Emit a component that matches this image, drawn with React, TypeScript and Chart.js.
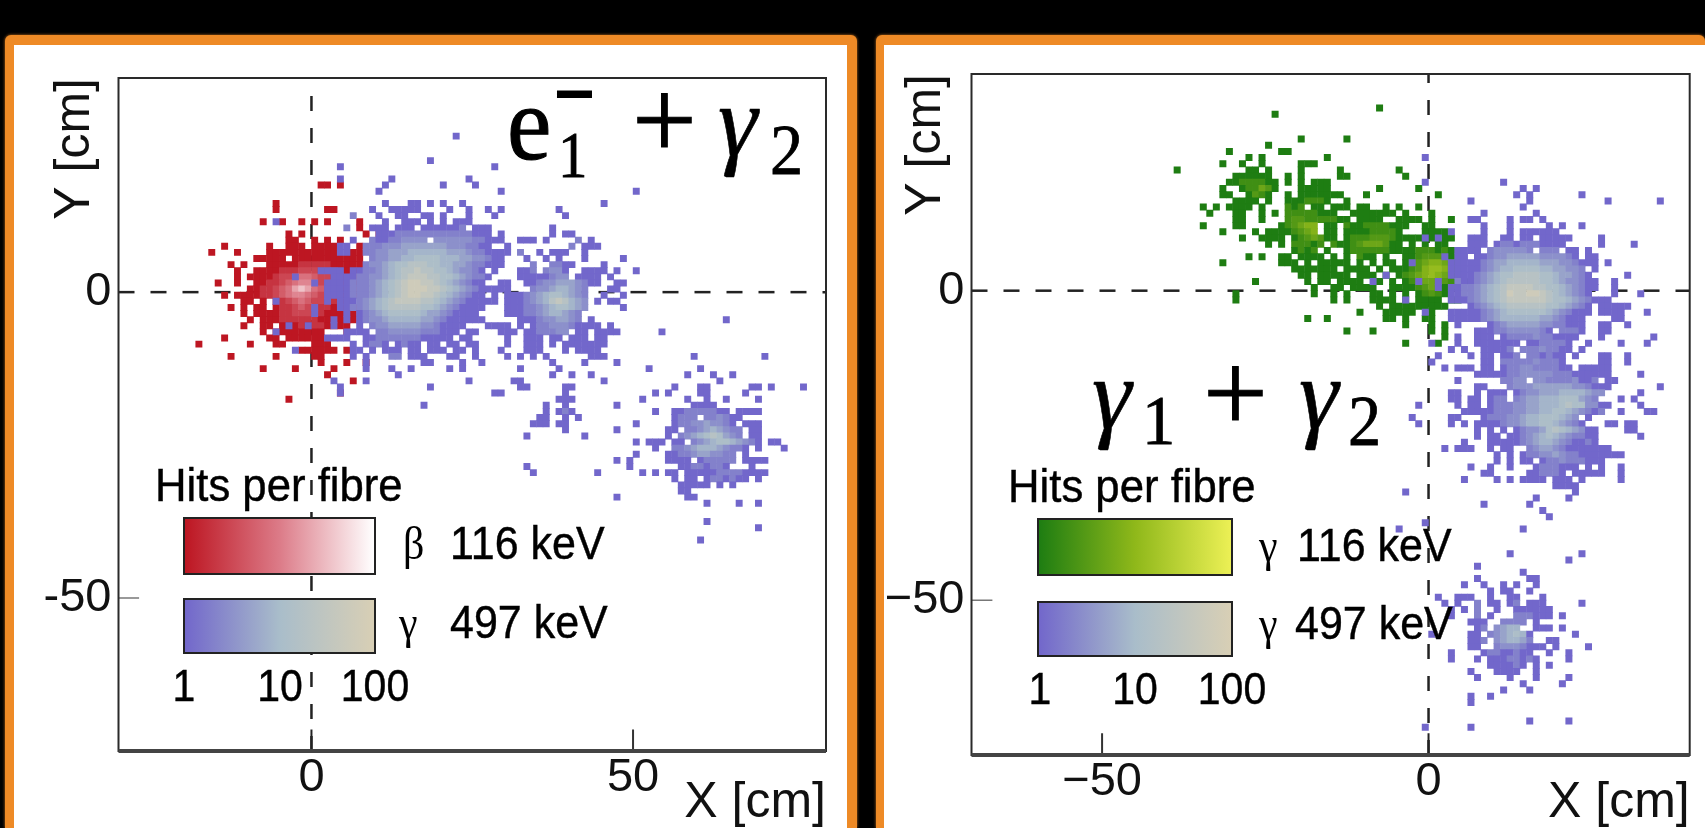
import React, { useEffect, useRef } from "react";
import { Chart, registerables } from "chart.js";

Chart.register(...registerables);

type Row = [number, number, string];

// Each row: Y bin (cm), first X bin (cm), hits code per 1 cm fibre ('.' = none).
const hitsByCode = [0, 1, 2, 3, 5, 8, 12, 20, 35, 60];

const leftBetaRows: Row[] = [
  [17, 1, "11.1"], [14, -6, "1"], [13, -6, "1"], [13, 2, "11"],
  [11, -8, "1"], [11, -5, "1"], [11, -2, "1"], [11, 0, "1"], [11, 2, "1"], [11, 7, "1"],
  [10, 7, "1"], [9, -4, "1.1"], [9, 8, "1.1"], [8, -4, "11..1.1.1"],
  [7, -14, "1"], [7, -7, "1..111.1111...1"],
  [6, -16, "1...1"], [6, -7, "11111111111..11"],
  [5, -9, "11111.11111111111"], [4, -13, "1.1...111112222211111"],
  [3, -12, "1..11112223332221111"], [2, -12, "1.111123345543321111"],
  [1, -15, "1..1..11223456653322111"], [0, -10, "11223457875432111"],
  [-1, -14, "1.1111223456654332111"], [-2, -11, "11.1.223454332211"],
  [-3, -13, "1.1.11.1223433221111"], [-4, -11, "1.1111223332211111"],
  [-5, -10, "1.111222222111111"], [-6, -11, "1..11.11121221111"],
  [-7, -8, "1.11111111...1"], [-8, -14, "1......11.111111"],
  [-9, -18, "1.......1...11....111"], [-10, -2, "111111.1"],
  [-11, -13, "1......1.....11"], [-12, 1, "1...1..1"],
  [-13, -8, "1....1.....1"], [-14, 2, "1"], [-15, 6, "1"], [-17, 4, "1"], [-18, -4, "1"],
];

const leftGammaRows: Row[] = [
  [25, 22, "1"], [21, 18, "1"], [20, 4, "1"], [20, 28, "1"],
  [18, 4, "1"], [18, 12, "1"], [18, 24, "1"], [17, 11, "1"], [17, 20, "1"], [17, 25, "1"],
  [16, 10, "1"], [16, 29, "1"], [16, 50, "1"],
  [14, 11, "1"], [14, 15, "11"], [14, 18, "1"], [14, 20, "1"], [14, 23, "1"], [14, 45, "1"],
  [13, 9, "1"], [13, 12, "11111"], [13, 21, "1"], [13, 24, "1"], [13, 27, "1"], [13, 29, "1"], [13, 38, "1"],
  [12, 6, "2"], [12, 10, "1"], [12, 13, "11"], [12, 17, "11"], [12, 20, "1"], [12, 24, "1"], [12, 28, "1"], [12, 39, "1"],
  [11, -6, "1"], [11, 11, "1"], [11, 14, "111.1.1.111"],
  [10, 5, "2...111.111.1111112.111"], [10, 37, "1"],
  [9, 10, "111222222222222111.1"], [9, 37, "1"], [9, 39, "11"],
  [8, 6, "1"], [8, 9, "211223333.33333322111"], [8, 32, "111"], [8, 36, "1"], [8, 41, "2"], [8, 43, "1"],
  [7, 4, "11"], [7, 8, "22233344444443332211..1"], [7, 40, "2"], [7, 42, "111"],
  [6, 4, "11"], [6, 8, "22334445555554443221111"], [6, 32, "2"], [6, 35, "1"], [6, 37, "111"], [6, 42, "1"],
  [5, 9, "233445566665554433211"], [5, 33, "1"], [5, 36, "1"], [5, 38, "1"], [5, 42, "1"], [5, 48, "1"],
  [4, 8, "2334566777665544322111"], [4, 34, "2"], [4, 37, "2211"], [4, 45, "1"],
  [3, 1, "1111.1"], [3, 7, "12234567787766543321.1"], [3, 32, "11"], [3, 34, "2"], [3, 36, "2331"], [3, 42, "111"], [3, 45, "1"], [3, 47, "1"], [3, 50, "1"],
  [2, -3, "1"], [2, 3, "1111223345678887766543221"], [2, 32, "11111233.1111.1"],
  [1, 0, "1"], [1, 2, "1111222345678998876543211"], [1, 29, "11"], [1, 33, "112334443211"], [1, 47, "11"],
  [0, 2, "11112223456789998876543211"], [0, 28, "111"], [0, 34, "233455432"], [0, 46, "11"],
  [-1, 2, "1111222345678998876543211"], [-1, 28, "1"], [-1, 30, "1112345665432"], [-1, 45, "1"], [-1, 48, "1"],
  [-2, -6, "1"], [-2, 2, "1"], [-2, 4, "1112345678888776543211"], [-2, 26, "111"], [-2, 30, "1112345787543.1"], [-2, 46, "11"],
  [-3, 0, "1"], [-3, 4, "11223456777776654321"], [-3, 24, "111"], [-3, 30, "1112234566543"], [-3, 48, "1"],
  [-4, 0, "1"], [-4, 5, "1"], [-4, 7, "12345666665443211"], [-4, 24, "11"], [-4, 30, "111223455432"],
  [-5, 3, "1"], [-5, 5, "1"], [-5, 7, "12334555554432111"], [-5, 24, "111"], [-5, 32, "1112334432.1"],
  [-6, -4, "1"], [-6, -1, "1"], [-6, 3, "1"], [-6, 7, "1.233444443321111"], [-6, 27, "1111.1.12233321111"], [-6, 46, "1"],
  [-7, -6, "1"], [-7, 5, "1111.2233333222111"], [-7, 24, "11"], [-7, 29, "111"], [-7, 33, "1122233"], [-7, 41, "11"], [-7, 44, "1111"], [-7, 54, "1"],
  [-8, 2, "1111"], [-8, 8, "11222222211111.11"], [-8, 30, "1"], [-8, 33, "111"], [-8, 37, "11"], [-8, 40, "111"], [-8, 44, "11"],
  [-9, 6, "1.1221.1211.11.11"], [-9, 24, "11"], [-9, 30, "1"], [-9, 33, "111"], [-9, 37, "1.1"], [-9, 40, "1111"], [-9, 44, "11"],
  [-10, -3, "1"], [-10, 6, "11.1.111.11.111.11"], [-10, 25, "1"], [-10, 29, "1"], [-10, 33, "111"], [-10, 39, "1"], [-10, 41, "1111"],
  [-11, 6, "1.1...22.111...11"], [-11, 25, "1"], [-11, 30, "1"], [-11, 32, "1"], [-11, 34, "1"], [-11, 36, "1"], [-11, 43, "111"], [-11, 59, "1"], [-11, 70, "1"],
  [-12, 8, "1"], [-12, 17, "11"], [-12, 23, "1"], [-12, 26, "1"], [-12, 37, "1"], [-12, 42, "1"], [-12, 47, "1"],
  [-5, 64, "1"],
  [-13, 8, "1"], [-13, 12, "1"], [-13, 15, "1"], [-13, 21, "1"], [-13, 23, "1"], [-13, 32, "1"], [-13, 38, "1"], [-13, 52, "1"], [-13, 60, "1"],
  [-14, 13, "1"], [-14, 37, "1"], [-14, 40, "1"], [-14, 43, "1"], [-14, 58, "1"], [-14, 62, "1"], [-14, 65, "1"],
  [-15, 3, "1"], [-15, 8, "1"], [-15, 24, "1"], [-15, 31, "11"], [-15, 45, "1"], [-15, 63, "1"],
  [-16, 4, "1"], [-16, 18, "1"], [-16, 32, "11"], [-16, 39, "11"], [-16, 56, "1"], [-16, 60, "11"], [-16, 68, "11"], [-16, 71, "1"], [-16, 76, "1"],
  [-17, 4, "1"], [-17, 28, "11"], [-17, 39, "1"], [-17, 53, "1"], [-17, 55, "1"], [-17, 60, "11"], [-17, 67, "1"],
  [-18, 38, "111"], [-18, 51, "1"], [-18, 58, "1"], [-18, 61, "1"], [-18, 64, "1"], [-18, 69, "1"],
  [-19, 17, "1"], [-19, 36, "1"], [-19, 39, "1"], [-19, 47, "1"], [-19, 59, "1111"],
  [-20, 36, "1"], [-20, 38, "121"], [-20, 53, "1"], [-20, 56, "112222211.1111"],
  [-21, 35, "11"], [-21, 39, "1"], [-21, 41, "1"], [-21, 56, "1222.223211"],
  [-22, 34, "111"], [-22, 38, "11"], [-22, 50, "1"], [-22, 56, "1223343321.111"],
  [-23, 39, "1"], [-23, 47, "1"], [-23, 55, "11.223454322.11"],
  [-24, 33, "1"], [-24, 42, "1"], [-24, 55, "1.2345676432.11"],
  [-25, 50, "1"], [-25, 52, "111.11.23456654321.11"],
  [-26, 53, "1"], [-26, 56, "223455543221.1"], [-26, 73, "1"],
  [-27, 50, "1"], [-27, 55, "11223443322.1"],
  [-28, 47, "1"], [-28, 49, "1"], [-28, 55, "1111.122222.1111"],
  [-29, 33, "1"], [-29, 49, "1"], [-29, 57, "11221221...1"],
  [-30, 34, "1"], [-30, 44, "1"], [-30, 51, "1"], [-30, 53, "1"], [-30, 55, "11.1111122221111"],
  [-31, 56, "1.11.1221211.1"], [-32, 57, "11111.1.1"], [-33, 57, "11"],
  [-34, 47, "1"], [-34, 58, "11"], [-35, 61, "1"], [-35, 66, "1"], [-35, 69, "1"],
  [-38, 61, "1"], [-39, 69, "1"], [-41, 60, "1"],
];

const rightLowRows: Row[] = [
  [29, -8, "1"], [28, -24, "1"], [24, -20, "1"], [24, -13, "1"], [23, -25, "1"], [22, -31, "1"], [22, -23, "11"],
  [21, -28, "1"], [21, -26, "1"], [21, -16, "1"], [20, -32, "1"], [20, -29, "1"], [20, -26, "1"], [20, -20, "111"],
  [19, -39, "1"], [19, -28, "11.1"], [19, -20, "1"], [19, -14, "1"], [19, -5, "1"],
  [18, -30, "111111"], [18, -22, "1.1"], [18, -14, "11"], [18, -4, "1"],
  [17, -31, "11222211"], [17, -22, "1.1.111"], [16, -32, "1"], [16, -29, "122431"], [16, -20, "11111"], [16, -8, "1"], [16, -2, "1"],
  [15, -32, "11"], [15, -28, "1321"], [15, -22, "1.111111"], [15, -14, "1"], [15, -10, "1"], [15, 1, "1"],
  [14, -30, "1111"], [14, -25, "1"], [14, -22, "1112221"], [14, -13, "1"],
  [13, -35, "1.1"], [13, -31, "1111"], [13, -26, "1"], [13, -22, "212.11.111"], [13, -11, "11"], [13, -7, "1"], [13, -5, "1"], [13, -2, "1"],
  [12, -34, "1"], [12, -30, "11"], [12, -26, "1"], [12, -24, "1"], [12, -22, "22222111"], [12, -12, "11111"], [12, -7, "11.1"], [12, 0, "1"],
  [11, -30, "11"], [11, -26, "1"], [11, -22, "2332222211.1111..1111"], [11, 0, "1"], [11, 3, "1"],
  [10, -35, "1"], [10, -30, "11"], [10, -23, "123455.11.2112222111"], [10, -1, "11"],
  [9, -32, "1"], [9, -27, "1"], [9, -25, "111"], [9, -22, "12345.11.111122221"], [9, -1, "1111"],
  [8, -29, "1"], [8, -26, "1111"], [8, -21, "1234311.12223332111"], [8, -2, "1"], [8, 0, "1"], [8, 2, "11"],
  [7, -25, "1"], [7, -23, "1"], [7, -21, "22212.21123444311"], [7, -3, "1"], [7, -1, "1.11"],
  [6, -21, "1212.1..1222222111"], [6, -3, "1222121"],
  [5, -28, "1"], [5, -26, "1"], [5, -23, "11"], [5, -20, "1111.1.1.211.1"], [5, -4, "11233321"],
  [4, -32, "1"], [4, -23, "111"], [4, -19, "1.11111.1.1"], [4, -7, "11"], [4, -4, "123455431"],
  [3, -21, "1111111.1111.1"], [3, -6, "11123566532"],
  [2, -20, "11.11111.111.1"], [2, -5, "1234565431"],
  [1, -27, "1"], [1, -19, "1.11.1111..1.1.1"], [1, -4, "1234433211"],
  [0, -18, "1..11.1111..111"], [0, -3, "123431.1"],
  [-1, -30, "1"], [-1, -18, "1"], [-1, -15, "1"], [-1, -13, "1"], [-1, -9, "11.1.1"], [-1, -2, "12321"],
  [-2, -30, "1"], [-2, -15, "1"], [-2, -13, "1"], [-2, -9, "1111.1.1111.11"],
  [-3, -8, "1.111111111"], [-4, -11, "1"], [-4, -7, "11111"], [-4, 0, "1"],
  [-5, -19, "1"], [-5, -16, "1"], [-5, -7, "11"], [-5, -4, "1"], [-5, -1, "11"],
  [-6, -4, "1"], [-6, 0, "1"], [-6, 2, "1"], [-7, -13, "1"], [-7, -9, "1"], [-7, 0, "1"], [-7, 2, "1"],
  [-8, 2, "1"], [-9, -4, "1"], [-9, 1, "1"],
];

const rightGammaRows: Row[] = [
  [21, -1, "1"], [17, -1, "1"], [9, 3, "1"], [8, -1, "1"], [8, 1, "1"], [5, 2, "1"], [4, -3, "1"], [2, -7, "1"],
  [1, -9, "1"], [1, -2, "1"], [1, 1, "1"], [0, 1, "1"], [-2, -4, "1"], [-4, -1, "1"],
  [17, 11, "1"], [16, 14, "1"], [16, 16, "1"], [15, 13, "1"], [15, 15, "1"], [15, 23, "1"],
  [14, 6, "1"], [14, 15, "1"], [14, 27, "1"], [14, 35, "1"], [13, 14, "1"], [12, 8, "1"], [12, 16, "1"],
  [11, 6, "11"], [11, 12, "1"], [11, 14, "11"], [11, 17, "1"],
  [10, 8, "1"], [10, 12, "1"], [10, 18, "1"], [10, 20, "1"], [10, 23, "1"],
  [9, 8, "1"], [9, 12, "1"], [9, 14, "111111"],
  [8, 6, "111"], [8, 11, "11"], [8, 14, "11.11111"], [8, 26, "1"],
  [7, 6, "111"], [7, 10, "12212221111"], [7, 26, "1"], [7, 31, "1"],
  [6, 4, "1111.2333332.222.11.1"],
  [5, 4, "11.1123344444333321.11"],
  [4, 3, "11111234455555444332111.1"],
  [3, 3, "111112345566665544332.1"],
  [2, 3, "1111234566777766544321"], [2, 30, "1"],
  [1, 4, "2112345677777665433211"], [1, 28, "1"],
  [0, 3, "11223456788887766543211"], [0, 28, "1"],
  [-1, 3, "1122345679889987654321"], [-1, 28, "1"], [-1, 32, "1"],
  [-2, 3, "111234567888888766543211"], [-2, 27, "1"],
  [-3, 6, "1234567777776654321"], [-3, 26, "11111"],
  [-4, 3, "1111"], [-4, 7, "123456666665432111"], [-4, 26, "1111"], [-4, 33, "1"],
  [-5, 3, "11111"], [-5, 8, "2345555554432111"], [-5, 28, "11"],
  [-6, 4, "1"], [-6, 9, "123444443322111"], [-6, 26, "11"], [-6, 30, "1"],
  [-7, 7, "11"], [-7, 9, "1223333321.2221"], [-7, 26, "11"],
  [-8, 4, "1"], [-8, 7, "111"], [-8, 11, "122223221111"], [-8, 26, "1"], [-8, 34, "1"],
  [-9, 0, "1"], [-9, 4, "1"], [-9, 7, "1111111.1122221..1"], [-9, 29, "1"], [-9, 33, "1"],
  [-10, 3, "1"], [-10, 5, "1"], [-10, 8, "11112.22232211.1"],
  [-11, 1, "1"], [-11, 6, "1"], [-11, 8, "11.112.221211.1"], [-11, 26, "11"], [-11, 30, "1"],
  [-12, 0, "1"], [-12, 8, "11"], [-12, 11, "2222232221"], [-12, 26, "11"], [-12, 30, "1"],
  [-13, 2, "1"], [-13, 4, "111"], [-13, 8, "11"], [-13, 11, "12233222211.111"], [-13, 26, "11"],
  [-14, 7, "1111"], [-14, 11, "122333332221111"], [-14, 26, "11"], [-14, 32, "1"],
  [-15, 4, "1"], [-15, 11, "2233.3322223"], [-15, 23, "112"], [-15, 27, "11"],
  [-16, 7, "11"], [-16, 12, "233344444433211"], [-16, 27, "1"], [-16, 35, "1"],
  [-17, 3, "11"], [-17, 7, "1"], [-17, 9, "111.1"], [-17, 14, "2334445555433"], [-17, 32, "1"],
  [-18, 3, "11"], [-18, 6, "11"], [-18, 9, "122.2344555666432"], [-18, 29, "1"], [-18, 31, "1"],
  [-19, -2, "1"], [-19, 4, "1"], [-19, 6, "11"], [-19, 9, "122233445556766331"], [-19, 27, "1"], [-19, 32, "1"],
  [-20, 5, "111"], [-20, 8, "1122233445566543212"], [-20, 29, "1"], [-20, 33, "11"],
  [-21, -3, "1"], [-21, 3, "11"], [-21, 8, "122233455666543.1"],
  [-22, -2, "1"], [-22, 3, "1"], [-22, 5, "1"], [-22, 7, "11112334556654321"], [-22, 27, "11"], [-22, 30, "11"],
  [-23, 7, "1"], [-23, 9, "1.1.1233467654311"], [-23, 30, "11"],
  [-24, 7, "1"], [-24, 9, "11.11234565432211"], [-24, 32, "1"],
  [-25, 5, "1"], [-25, 9, "11111234554321121"],
  [-26, 2, "1"], [-26, 4, "111"], [-26, 9, "1.11..2344321111111"],
  [-27, 10, "1"], [-27, 12, "1"], [-27, 14, "122334322111111"], [-27, 29, "1"],
  [-28, 10, "1"], [-28, 12, "1"], [-28, 14, "11.1223222111"],
  [-29, 6, "1"], [-29, 9, "1"], [-29, 12, "1"], [-29, 16, "1222111.1.1"], [-29, 29, "1"],
  [-30, 8, "11"], [-30, 15, "112221.1111"], [-30, 26, "1"], [-30, 29, "1"],
  [-31, 5, "1"], [-31, 10, "1"], [-31, 12, "1"], [-31, 14, "1111.111.1"], [-31, 29, "1"],
  [-32, 19, "1111"], [-33, -4, "1"], [-33, 22, "1"], [-34, 16, "1"], [-34, 21, "1"], [-35, 8, "1"], [-35, 15, "1"],
  [-36, 17, "1"], [-37, 18, "1"], [-38, -1, "1"], [-39, -5, "1"], [-39, 14, "1"],
  [-43, 12, "1"], [-43, 23, "1"], [-44, 21, "1"], [-45, 7, "1"], [-46, 14, "1"], [-47, 7, "1"], [-47, 15, "11"],
  [-48, 5, "1"], [-48, 8, "1"], [-48, 11, "1"], [-48, 13, "1"], [-48, 16, "1"],
  [-49, 9, "1"], [-49, 11, "11"], [-49, 15, "1"],
  [-50, 1, "1"], [-50, 4, "111"], [-50, 9, "1"], [-50, 12, "11"], [-50, 17, "1"],
  [-51, 2, "1"], [-51, 4, "1"], [-51, 7, "2"], [-51, 9, "11"], [-51, 12, "12"], [-51, 15, "111"], [-51, 23, "1"],
  [-52, 3, "1"], [-52, 5, "1"], [-52, 7, "2"], [-52, 10, "1"], [-52, 13, "111111"],
  [-53, 3, "1"], [-53, 7, "2"], [-53, 9, "1"], [-53, 13, "222"], [-53, 16, "111"], [-53, 20, "1"],
  [-54, 6, "111"], [-54, 11, "2222"], [-54, 16, "1"],
  [-55, 7, "12"], [-55, 10, "3455"], [-55, 16, "111"], [-55, 20, "1"],
  [-56, 0, "1"], [-56, 6, "11"], [-56, 9, "2345651"], [-56, 22, "1"],
  [-57, 6, "112"], [-57, 10, "345542"], [-57, 18, "11"],
  [-58, 6, "11"], [-58, 10, "23332111"], [-58, 19, "1"], [-58, 24, "1"],
  [-59, 3, "1"], [-59, 8, "12211211"], [-59, 18, "1"], [-59, 21, "1"],
  [-60, 3, "1"], [-60, 7, "1"], [-60, 9, "11122121"], [-60, 21, "1"],
  [-61, 9, "111121"], [-61, 16, "1"], [-61, 18, "1"],
  [-62, 6, "1"], [-62, 10, "1111"], [-62, 16, "1"],
  [-63, 7, "1"], [-63, 12, "1"], [-63, 16, "1"], [-63, 21, "1"],
  [-64, 14, "1"], [-64, 20, "1"], [-65, 11, "1"], [-65, 15, "1"], [-66, 6, "1"], [-66, 9, "1"], [-67, 6, "1"],
  [-70, 15, "1"], [-70, 21, "1"], [-71, -1, "1"], [-71, 6, "1"],
];

const redStops = ["#bd1622", "#dc7b88", "#ffffff"];
const blueStops = ["#7267cb", "#a9bdca", "#d8cfb5"];
const greenStops = ["#1e7d12", "#8fb81a", "#ecf055"];

const leftXTicks = [0, 50];
const leftXLabels = ["0", "50"];
const leftYTicks = [-50, 0];
const leftYLabels = ["-50", "0"];
const rightXTicks = [-50, 0];
const rightXLabels = ["\u221250", "0"];
const rightYTicks = [-50, 0];
const rightYLabels = ["\u221250", "0"];

const hexToRgb = (h: string) => [1, 3, 5].map((i) => parseInt(h.slice(i, i + 2), 16));
function hitColor(stops: string[], hits: number) {
  const t = Math.log10(hits);
  const i = Math.min(1, Math.floor(t));
  const f = t - i;
  const a = hexToRgb(stops[i]);
  const b = hexToRgb(stops[i + 1]);
  return `rgb(${a.map((v, n) => Math.round(v + (b[n] - v) * f)).join(",")})`;
}

function cells(rows: Row[]) {
  const pts: { x: number; y: number; hits: number }[] = [];
  rows.forEach(([y, x0, code]) => {
    [...code].forEach((c, i) => {
      if (c !== ".") pts.push({ x: x0 + i + 0.5, y: y + 0.5, hits: hitsByCode[Number(c)] });
    });
  });
  return pts;
}

function cellSet(label: string, rows: Row[], stops: string[], order: number, radius: number) {
  const data = cells(rows);
  return {
    label,
    data,
    order,
    showLine: false,
    pointStyle: "rect",
    pointRadius: radius,
    pointBorderWidth: 0,
    pointBackgroundColor: data.map((p) => hitColor(stops, p.hits)),
  };
}

function lineSet(data: { x: number; y: number }[], color: string, width: number, dash: number[]) {
  return {
    data,
    order: 9,
    showLine: true,
    pointRadius: 0,
    borderColor: color,
    borderWidth: width,
    borderDash: dash,
  };
}

type PanelCfg = {
  width: number;
  left: number;
  right: number;
  top: number;
  bottom: number;
  xMin: number;
  xMax: number;
  xTicks: number[];
  xLabels: string[];
  yTicks: number[];
  yLabels: string[];
  xTickMark: number;
  yTitleOffset: number;
  low: { label: string; rows: Row[]; stops: string[] };
  high: { label: string; rows: Row[]; stops: string[] };
  radius: number;
  xTickPad: number;
};

const yMin = -75;
const yMax = 35;

const leftCfg: PanelCfg = {
  width: 860, left: 118.5, right: 826, top: 78, bottom: 751,
  xMin: -30, xMax: 80, xTicks: leftXTicks, xLabels: leftXLabels, yTicks: leftYTicks, yLabels: leftYLabels,
  xTickMark: 50, yTitleOffset: 75.5,
  low: { label: "\u03b2 116 keV", rows: leftBetaRows, stops: redStops },
  high: { label: "\u03b3 497 keV", rows: leftGammaRows, stops: blueStops },
  radius: 4.9, xTickPad: 1,
};
const rightCfg: PanelCfg = {
  width: 845, left: 111.5, right: 829.7, top: 74, bottom: 755,
  xMin: -70, xMax: 40, xTicks: rightXTicks, xLabels: rightXLabels, yTicks: rightYTicks, yLabels: rightYLabels,
  xTickMark: -50, yTitleOffset: 66,
  low: { label: "\u03b3 116 keV", rows: rightLowRows, stops: greenStops },
  high: { label: "\u03b3 497 keV", rows: rightGammaRows, stops: blueStops },
  radius: 4.95, xTickPad: 1,
};

const sans = "'Liberation Sans', Arial, sans-serif";
const serif = "'Liberation Serif', serif";

function buildChart(canvas: HTMLCanvasElement, c: PanelCfg) {
  const framePlugin = {
    id: "frame",
    afterDraw(chart: any) {
      const { left, right, top, bottom } = chart.chartArea;
      const ctx = chart.ctx;
      ctx.save();
      ctx.strokeStyle = "#2a2a2a";
      ctx.lineWidth = 2;
      ctx.strokeRect(left, top, right - left, bottom - top);
      ctx.strokeStyle = "#444";
      ctx.lineWidth = 4;
      ctx.beginPath();
      ctx.moveTo(left, bottom);
      ctx.lineTo(right, bottom);
      ctx.stroke();
      ctx.restore();
    },
  };
  return new Chart(canvas, {
    type: "scatter",
    data: {
      datasets: [
        lineSet([{ x: c.xMin, y: 0 }, { x: c.xMax, y: 0 }], "#222", 2.5, [16, 16]),
        lineSet([{ x: 0, y: yMin }, { x: 0, y: yMax }], "#222", 2.5, [15, 17]),
        lineSet([{ x: 0, y: yMin }, { x: 0, y: yMin + 3.5 }], "#222", 2, []),
        lineSet([{ x: c.xTickMark, y: yMin }, { x: c.xTickMark, y: yMin + 3.5 }], "#333", 2, []),
        lineSet([{ x: c.xMin, y: -50 }, { x: c.xMin + 3.2, y: -50 }], "#777", 1.5, []),
        cellSet(c.low.label, c.low.rows, c.low.stops, 2, c.radius),
        cellSet(c.high.label, c.high.rows, c.high.stops, 1, c.radius),
      ] as any,
    },
    plugins: [framePlugin],
    options: {
      animation: false,
      responsive: false,
      events: [],
      layout: { padding: { left: 0, right: c.width - c.right, top: c.top, bottom: 0 } },
      plugins: { legend: { display: false }, tooltip: { enabled: false } },
      scales: {
        x: {
          type: "linear",
          min: c.xMin,
          max: c.xMax,
          grid: { display: false, drawTicks: false },
          border: { display: false },
          afterBuildTicks: (s: any) => { s.ticks = c.xTicks.map((value) => ({ value })); },
          afterFit: (s: any) => { s.height = 828 - c.bottom; },
          ticks: {
            autoSkip: false, maxRotation: 0, padding: c.xTickPad, color: "#111",
            font: { family: sans, size: 47, lineHeight: 1.1 },
            callback: (v: any) => c.xLabels[c.xTicks.indexOf(Number(v))],
          },
          title: {
            display: true, text: "X [cm]", align: "end", color: "#111",
            font: { family: sans, size: 50, lineHeight: 1 }, padding: { top: 0, bottom: 0 },
          },
        },
        y: {
          type: "linear",
          min: yMin,
          max: yMax,
          grid: { display: false, drawTicks: false },
          border: { display: false },
          afterBuildTicks: (s: any) => { s.ticks = c.yTicks.map((value) => ({ value })); },
          afterFit: (s: any) => { s.width = c.left; },
          ticks: {
            autoSkip: false, padding: 7, color: "#111",
            font: { family: sans, size: 47, lineHeight: 1.1 },
            callback: (v: any) => c.yLabels[c.yTicks.indexOf(Number(v))],
          },
          title: {
            display: true, text: "Y [cm]", align: "end", color: "#111",
            font: { family: sans, size: 50, lineHeight: 1 }, padding: { top: c.yTitleOffset - 25, bottom: 0 },
          },
        },
      },
    } as any,
  });
}

function Panel({ cfg, x }: { cfg: PanelCfg; x: number }) {
  const ref = useRef<HTMLCanvasElement>(null);
  useEffect(() => {
    const chart = buildChart(ref.current!, cfg);
    return () => chart.destroy();
  }, [cfg]);
  return (
    <canvas
      ref={ref}
      width={cfg.width}
      height={828}
      style={{ position: "absolute", left: x, top: 0, width: cfg.width, height: 828, filter: "blur(0.6px)" }}
    />
  );
}

function T(p: { x: number; b: number; s: number; t: string; f?: string; i?: boolean; c?: boolean; sx?: number; sy?: number; w?: number }) {
  const f = p.f ?? sans;
  return (
    <span
      style={{
        position: "absolute",
        left: p.x,
        top: p.b - 0.34 * p.s,
        lineHeight: 0,
        fontFamily: f,
        fontSize: p.s,
        fontStyle: p.i ? "italic" : "normal",
        color: "#000",
        whiteSpace: "nowrap",
        WebkitTextStroke: `${p.w ?? 0.4}px #000`,
        transform: `${p.c ? "translateX(-50%) " : ""}scale(${p.sx ?? 1},${p.sy ?? 1.08})`,
        transformOrigin: "left center",
        filter: "blur(0.4px)",
      }}
    >
      {p.t}
    </span>
  );
}

function Bar(p: { x: number; y: number; w: number; h: number; stops: string[] }) {
  return (
    <div
      style={{
        position: "absolute",
        left: p.x,
        top: p.y,
        width: p.w,
        height: p.h,
        boxSizing: "border-box",
        border: "2px solid #222",
        background: `linear-gradient(to right, ${p.stops.join(",")})`,
        filter: "blur(0.5px)",
      }}
    />
  );
}

function Frame(p: { x: number; w: number; ix: number; iw: number }) {
  return (
    <>
      <div style={{ position: "absolute", left: p.x, top: 35, width: p.w, height: 793, background: "#ee8a26", borderRadius: "6px 6px 0 0", boxShadow: "0 0 3px #c9741f" }} />
      <div style={{ position: "absolute", left: p.ix, top: 45, width: p.iw, height: 783, background: "#fff" }} />
    </>
  );
}

export default function App() {
  return (
    <div style={{ position: "fixed", left: 0, top: 0, width: 1705, height: 828, background: "#000", overflow: "hidden" }}>
      <Frame x={5} w={852} ix={14} iw={833} />
      <Frame x={876} w={829} ix={884} iw={821} />
      <Panel cfg={leftCfg} x={0} />
      <Panel cfg={rightCfg} x={860} />

      <T x={507} b={158} s={100} t="e" f={serif} sy={1.05} w={1} />
      <T x={558} b={176} s={62} t="1" f={serif} sx={0.95} sy={1.05} w={0.8} />
      <T x={554} b={118} s={72} t={"\u2212"} f={serif} sy={1.5} w={1.5} />
      <T x={632} b={159} s={115} t="+" f={serif} sy={1} w={1} />
      <T x={718} b={155} s={100} t={"\u03b3"} f={serif} i sy={1.02} w={0.6} />
      <T x={770} b={174} s={72} t="2" f={serif} sx={0.92} sy={1} w={0.8} />

      <T x={155} b={500} s={42} t="Hits per fibre" sx={1.04} />
      <Bar x={183} y={517} w={193} h={58} stops={redStops} />
      <Bar x={183} y={598} w={193} h={56} stops={blueStops} />
      <T x={403} b={558} s={42} t={"\u03b2"} f={serif} w={0} />
      <T x={399} b={637} s={42} t={"\u03b3"} f={serif} w={0} />
      <T x={450} b={558} s={43} t="116 keV" />
      <T x={450} b={637} s={43} t="497 keV" />
      <T x={184} b={700} s={41} t="1" c />
      <T x={280} b={700} s={41} t="10" c />
      <T x={375} b={700} s={41} t="100" c />

      <T x={1092} b={428} s={100} t={"\u03b3"} f={serif} i sy={1.02} w={0.6} />
      <T x={1142} b={445} s={70} t="1" f={serif} sx={0.95} sy={1} w={0.8} />
      <T x={1203} b={432} s={115} t="+" f={serif} sy={1} w={1} />
      <T x={1299} b={428} s={100} t={"\u03b3"} f={serif} i sy={1.02} w={0.6} />
      <T x={1348} b={445} s={72} t="2" f={serif} sx={0.92} sy={1} w={0.8} />

      <T x={1008} b={501} s={42} t="Hits per fibre" sx={1.04} />
      <Bar x={1037} y={518} w={196} h={58} stops={greenStops} />
      <Bar x={1037} y={601} w={196} h={56} stops={blueStops} />
      <T x={1259} b={560} s={42} t={"\u03b3"} f={serif} w={0} />
      <T x={1259} b={638} s={42} t={"\u03b3"} f={serif} w={0} />
      <T x={1297} b={560} s={43} t="116 keV" />
      <T x={1295} b={638} s={43} t="497 keV" />
      <T x={1040} b={703} s={41} t="1" c />
      <T x={1135} b={703} s={41} t="10" c />
      <T x={1232} b={703} s={41} t="100" c />
    </div>
  );
}
